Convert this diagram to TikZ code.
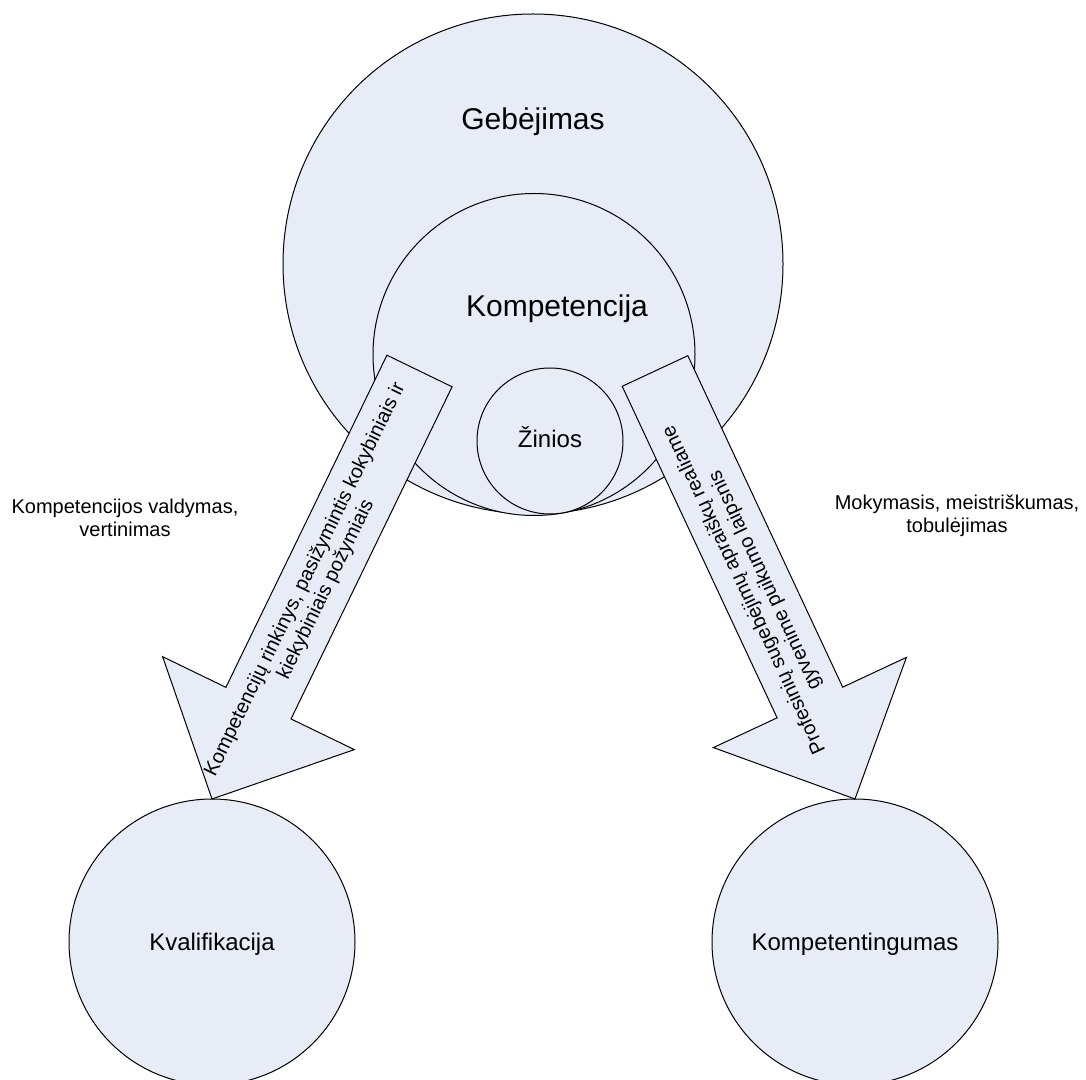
\documentclass[tikz,border=0pt]{standalone}
\usepackage{fontspec}
\setmainfont{Liberation Sans}
\usetikzlibrary{calc}
\definecolor{shapefill}{RGB}{231,236,247}

% Block arrow from a tail centre (#1) to a tip (#2):
% shaft half width 27.15pt, head half width and head length 79.9pt.
\newcommand\blockarrow[2]{%
  \coordinate (neck) at ($(#2)!79.9pt!(#1)$);
  \draw[arrowbody]
    ($(#1)!27.15pt!90:(#2)$) -- ($(#1)!27.15pt!-90:(#2)$)
    -- ($(neck)!27.15pt!90:(#1)$) -- ($(neck)!79.9pt!90:(#1)$)
    -- (#2)
    -- ($(neck)!79.9pt!-90:(#1)$) -- ($(neck)!27.15pt!-90:(#1)$)
    -- cycle;
}

\begin{document}
\begin{tikzpicture}[x=0.75pt,y=-0.75pt,
  disc/.style={circle,draw=black,fill=shapefill,line width=0.75pt,
    inner sep=0pt,outer sep=0pt},
  arrowbody/.style={draw=black,fill=shapefill,line width=0.75pt,line join=miter},
  bigtext/.style={font=\fontsize{22.5}{26}\selectfont,anchor=base,inner sep=0pt},
  midtext/.style={font=\fontsize{18}{21}\selectfont,anchor=base,inner sep=0pt},
  smalltext/.style={font=\fontsize{15}{17.25}\selectfont,align=center,inner sep=0pt}]
\useasboundingbox (0,0) rectangle (1086,1080);

% nested circles
\node[disc,minimum size=375pt]   (geb)  at (533,264)   {};
\node[disc,minimum size=241.5pt] (komp) at (534,354.5) {};
\node[disc,minimum size=109.5pt] (zin)  at (550,441)   {};

% outcome circles
\node[disc,minimum size=214.5pt] (kval) at (212,942) {};
\node[disc,minimum size=214.5pt] (kmpt) at (855,942) {};

% circle labels
\node[bigtext] (gebL)  at (533,130) {Gebėjimas};
\node[bigtext] (kompL) at (557,317) {Kompetencija};
\node[midtext] (zinL)  at (550,448) {Žinios};
\node[midtext] (kvalL) at (212,950) {Kvalifikacija};
\node[midtext] (kmptL) at (855,950) {Kompetentingumas};

% block arrows
\coordinate (tailL) at (419.5,371);
\coordinate (tailR) at (655,371);
\blockarrow{tailL}{kval.north}
\blockarrow{tailR}{kmpt.north}

\node[smalltext,rotate=64.1] (arrL) at ($(tailL)!0.5!(kval.north)$)
  {Kompetencijų rinkinys, pasižymintis kokybiniais ir\\kiekybiniais požymiais};
\node[smalltext,rotate=115.1] (arrR) at ($(tailR)!0.5!(kmpt.north)$)
  {Profesinių sugebėjimų apraiškų realiame\\gyvenime puikumo laipsnis};

% side captions
\node[smalltext] (capL) at (125,517.7) {Kompetencijos valdymas,\\vertinimas};
\node[smalltext] (capR) at (957,515.3) {Mokymasis, meistriškumas,\\tobulėjimas};
\end{tikzpicture}
\end{document}
